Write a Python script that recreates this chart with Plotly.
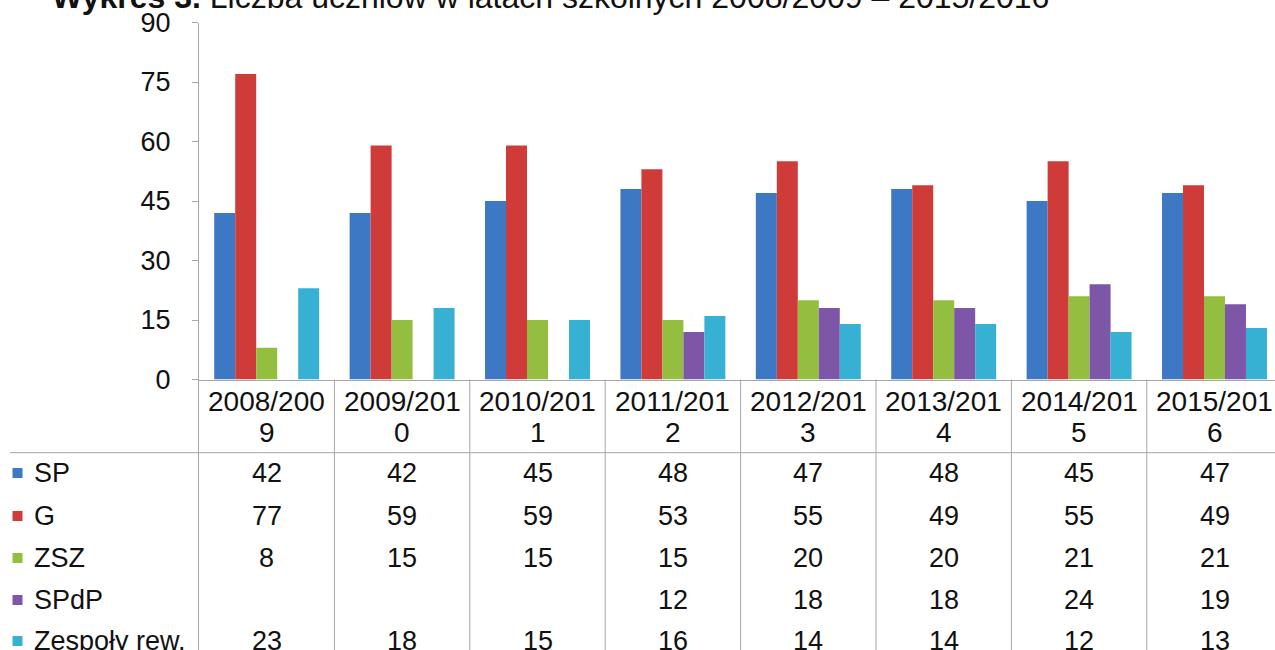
import plotly.graph_objects as go

# ---------------- data ----------------
seasons = ["2008/2009", "2009/2010", "2010/2011", "2011/2012",
           "2012/2013", "2013/2014", "2014/2015", "2015/2016"]
series_names = ["SP", "G", "ZSZ", "SPdP", "Zespoły rew."]
sp = [42, 42, 45, 48, 47, 48, 45, 47]
g = [77, 59, 59, 53, 55, 49, 55, 49]
zsz = [8, 15, 15, 15, 20, 20, 21, 21]
spdp = [None, None, None, 12, 18, 18, 24, 19]
zespoly = [23, 18, 15, 16, 14, 14, 12, 13]
y_ticks = [0, 15, 30, 45, 60, 75, 90]
title_bold = "Wykres 3."
title_rest = "Liczba uczniów w latach szkolnych 2008/2009 – 2015/2016"

# ---------------- styling / layout constants ----------------
colors = ["#3c78c4", "#cf3b39", "#93be40", "#7d56a8", "#36b1d3"]
W, H = 1275, 650
plot_left = 199.0
axis_bottom = 379.5
axis_top = 22.5
cat_w = 135.4
FONT = "Liberation Sans, Arial, sans-serif"
FS = 27
FS_HEAD = 28
FS_TITLE = 32
GRID = "#a6a6a6"
TXT = "#111111"


def py(ypx):
    return (H - ypx) / H


def px(xpx):
    return xpx / W


series_values = [sp, g, zsz, spdp, zespoly]
xs = list(range(len(seasons)))

fig = go.Figure()
for name, vals, col in zip(series_names, series_values, colors):
    fig.add_trace(go.Bar(x=xs, y=vals, name=name, marker_color=col,
                         marker_line_width=0, showlegend=False))

annotations = []
shapes = []

# title (cut off at top as in the reference)
annotations.append(dict(text=f"<b>{title_bold}</b> {title_rest}", x=px(50), y=py(-3),
                        xref="paper", yref="paper", xanchor="left", yanchor="middle",
                        showarrow=False, font=dict(family=FONT, size=FS_TITLE, color=TXT)))

# header labels (wrapped like the data table)
for i, s in enumerate(seasons):
    annotations.append(dict(text=s[:8], x=i, y=py(401), xref="x", yref="paper",
                            xanchor="center", yanchor="middle", showarrow=False,
                            font=dict(family=FONT, size=FS_HEAD, color=TXT)))
    annotations.append(dict(text=s[8:], x=i, y=py(432), xref="x", yref="paper",
                            xanchor="center", yanchor="middle", showarrow=False,
                            font=dict(family=FONT, size=FS_HEAD, color=TXT)))

row_y = [473, 516, 558, 600, 641]
for r, (name, vals, col) in enumerate(zip(series_names, series_values, colors)):
    yy = row_y[r]
    annotations.append(dict(text=name, x=px(32), y=py(yy), xref="paper", yref="paper",
                            xanchor="left", yanchor="middle", showarrow=False,
                            font=dict(family=FONT, size=FS, color=TXT)))
    shapes.append(dict(type="rect", xref="paper", yref="paper",
                       x0=px(12.5), x1=px(22.5), y0=py(yy + 5), y1=py(yy - 5),
                       fillcolor=col, line=dict(width=0)))
    for i, v in enumerate(vals):
        if v is None:
            continue
        annotations.append(dict(text=str(v), x=i, y=py(yy), xref="x", yref="paper",
                                xanchor="center", yanchor="middle", showarrow=False,
                                font=dict(family=FONT, size=FS, color=TXT)))

# table grid lines
y_ax_paper = py(axis_bottom)
for k in range(1, len(seasons) + 1):
    shapes.append(dict(type="line", xref="x", yref="paper", x0=k - 0.5, x1=k - 0.5,
                       y0=0, y1=y_ax_paper, line=dict(color=GRID, width=1)))
shapes.append(dict(type="line", xref="paper", yref="paper", x0=px(plot_left - 0.5),
                   x1=px(plot_left - 0.5), y0=0, y1=y_ax_paper, line=dict(color=GRID, width=1)))
shapes.append(dict(type="line", xref="paper", yref="paper", x0=px(10), x1=1,
                   y0=py(452.7), y1=py(452.7), line=dict(color=GRID, width=1)))

fig.update_layout(
    width=W, height=H,
    margin=dict(l=0, r=0, t=0, b=0, pad=0, autoexpand=False),
    paper_bgcolor="white", plot_bgcolor="white",
    barmode="group", bargap=0.225, bargroupgap=0,
    annotations=annotations, shapes=shapes,
    xaxis=dict(domain=[px(plot_left), 1], range=[-0.5, -0.5 + (W - plot_left) / cat_w],
               showticklabels=False, ticks="", showgrid=False, zeroline=False,
               showline=True, linecolor=GRID, linewidth=1, fixedrange=True,
               automargin=False),
    yaxis=dict(domain=[py(axis_bottom), py(axis_top)], range=[0, 90],
               tickvals=y_ticks, ticks="outside", ticklen=6, tickcolor=GRID,
               showline=True, linecolor=GRID, linewidth=1, showgrid=False,
               zeroline=False, ticklabelstandoff=16, automargin=False,
               tickfont=dict(family=FONT, size=FS, color=TXT), fixedrange=True),
)

fig.write_html("out.html", config={"displayModeBar": False},
               post_script="document.body.style.margin='0';document.body.style.overflow='hidden';")
